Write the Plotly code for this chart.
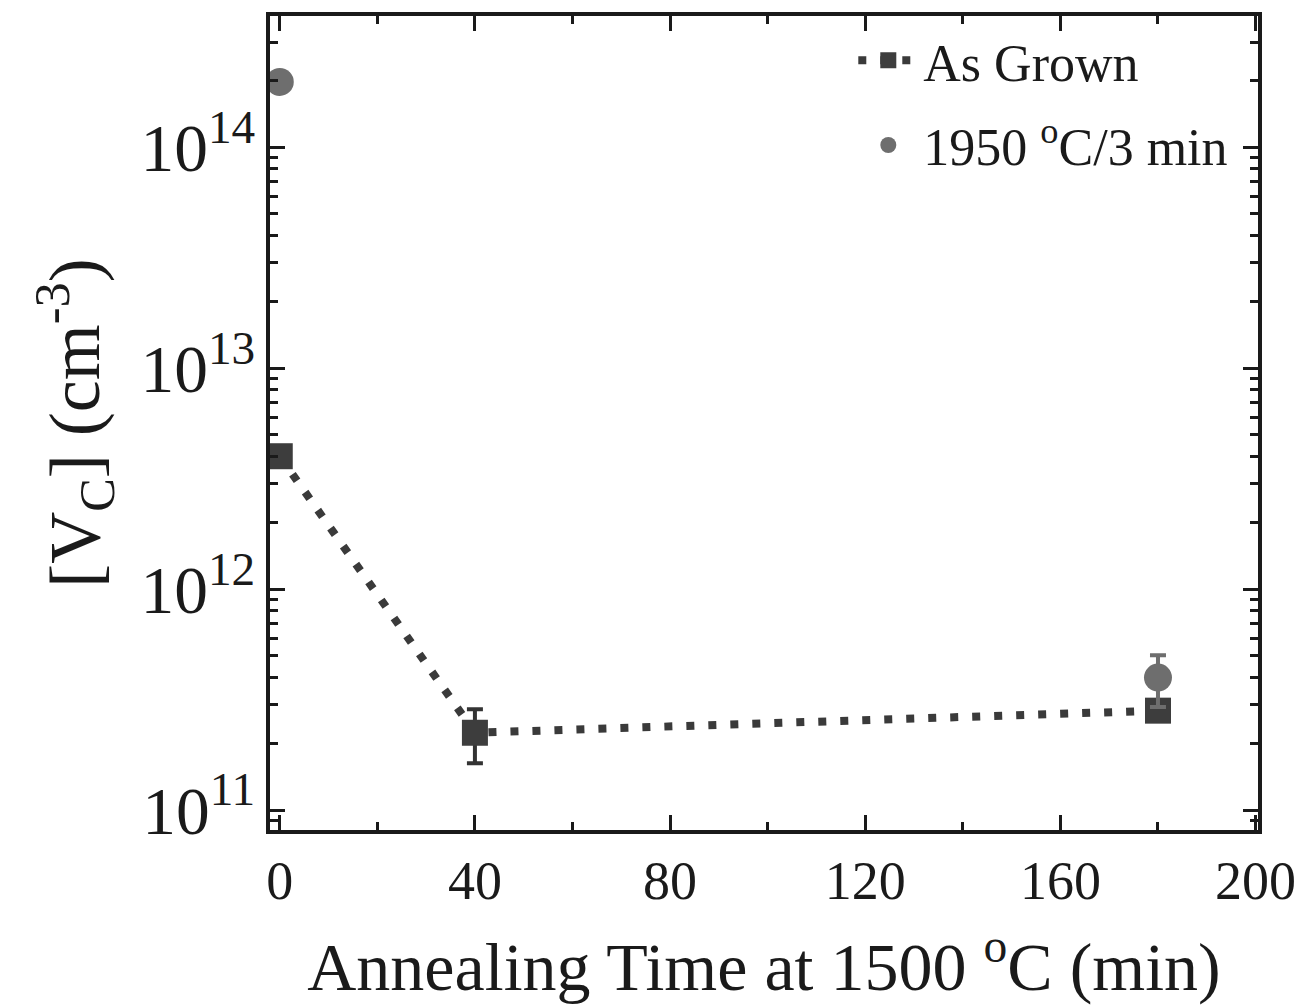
import plotly.graph_objects as go

# Data
time_as_grown = [0, 40, 180]
vc_as_grown = [4.0e12, 2.24e11, 2.82e11]
err_as_grown_plus = [0, 0.62e11, 0.2e11]
err_as_grown_minus = [0, 0.61e11, 0.2e11]

time_1950 = [0, 180]
vc_1950 = [1.98e14, 3.98e11]
err_1950 = [0, 1.05e11]

font_family = "Liberation Serif, Times New Roman, serif"

fig = go.Figure()
fig.add_trace(go.Scatter(
    x=time_as_grown, y=vc_as_grown, name="As Grown",
    mode="lines+markers", legendgroup="a",
    line=dict(color="#3a3a3a", width=8, dash="8px,14px"),
    marker=dict(symbol="square", size=26, color="#3d3d3d"),
    error_y=dict(type="data", symmetric=False, array=err_as_grown_plus,
                 arrayminus=err_as_grown_minus, color="#333333",
                 thickness=4, width=8),
))
fig.add_trace(go.Scatter(
    x=time_1950, y=vc_1950, name="1950 <sup>o</sup>C/3 min",
    mode="markers", legendgroup="b",
    marker=dict(symbol="circle", size=28, color="#6e6e6e"),
    error_y=dict(type="data", array=err_1950, color="#6e6e6e",
                 thickness=4, width=8),
))

axis_common = dict(
    showline=True, linecolor="#1a1a1a", linewidth=4, mirror="allticks",
    ticks="inside", ticklen=15, tickwidth=3, tickcolor="#1a1a1a",
    showgrid=False, zeroline=False,
    tickfont=dict(family=font_family, size=54, color="#1a1a1a"),
)

fig.update_xaxes(
    range=[-2, 200.5], tickvals=[0, 40, 80, 120, 160, 200],
    minor=dict(ticks="inside", ticklen=8, tickwidth=3, tickcolor="#1a1a1a",
               dtick=20, tick0=0),
    title=dict(text="Annealing Time at 1500 <sup>o</sup>C (min)",
               font=dict(family=font_family, size=68, color="#1a1a1a"),
               standoff=34),
    **axis_common,
)
fig.update_yaxes(
    type="log", range=[10.91, 14.595], dtick=1, exponentformat="power",
    minor=dict(ticks="inside", ticklen=8, tickwidth=3, tickcolor="#1a1a1a"),
    title=dict(text="[V<sub>C</sub>] (cm<sup>-3</sup>)",
               font=dict(family=font_family, size=72, color="#1a1a1a"),
               standoff=18),
    **axis_common,
)

fig.update_layout(
    width=1312, height=1007,
    margin=dict(l=270, r=54, t=13, b=177),
    paper_bgcolor="white", plot_bgcolor="white",
    showlegend=True,
    legend=dict(x=0.975, y=0.995, xanchor="right", yanchor="top",
                bgcolor="rgba(0,0,0,0)", traceorder="grouped",
                font=dict(family=font_family, size=52, color="#1a1a1a"),
                itemwidth=60, tracegroupgap=14),
)

fig.write_html("out.html")
